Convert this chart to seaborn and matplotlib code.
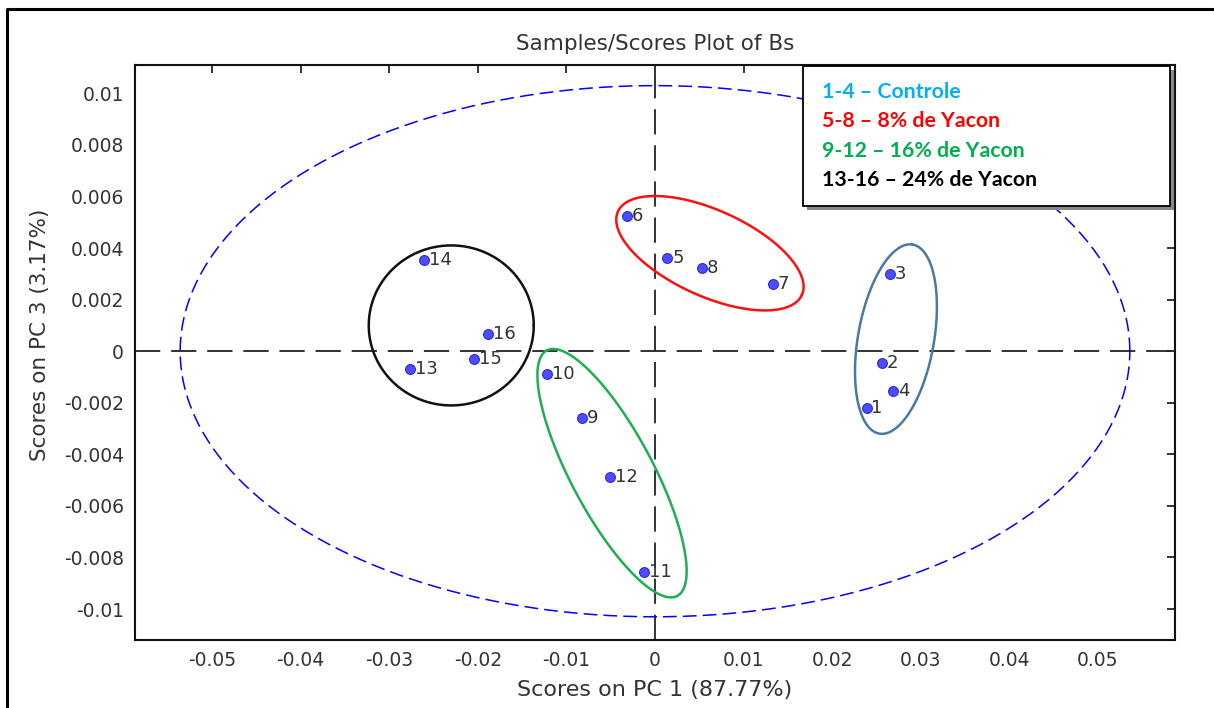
import numpy as np
import pandas as pd
from matplotlib import pyplot as plt
from matplotlib.lines import Line2D
from matplotlib.patches import Rectangle
import seaborn as sns

# PCA scores (PC1, PC3) for the 16 samples
sample_ids = [str(i) for i in range(1, 17)]
pc1_scores = [0.02389, 0.02565, 0.02652, 0.02690,
              0.00141, -0.00319, 0.01328, 0.00527,
              -0.00827, -0.01222, -0.00121, -0.00508,
              -0.02765, -0.02607, -0.02040, -0.01881]
pc3_scores = [-0.00220, -0.00044, 0.00301, -0.00155,
              0.00360, 0.00524, 0.00262, 0.00323,
              -0.00259, -0.00089, -0.00858, -0.00487,
              -0.00070, 0.00355, -0.00031, 0.00066]

# 95% confidence ellipse semi-axes (PC1, PC3)
conf_axes = (0.0536, 0.0103)

x_ticks = [-0.05, -0.04, -0.03, -0.02, -0.01, 0, 0.01, 0.02, 0.03, 0.04, 0.05]
x_tick_labels = ['-0.05', '-0.04', '-0.03', '-0.02', '-0.01', '0',
                 '0.01', '0.02', '0.03', '0.04', '0.05']
y_ticks = [0.01, 0.008, 0.006, 0.004, 0.002, 0, -0.002, -0.004, -0.006, -0.008, -0.01]
y_tick_labels = ['0.01', '0.008', '0.006', '0.004', '0.002', '0',
                 '-0.002', '-0.004', '-0.006', '-0.008', '-0.01']

legend_labels = ['1-4 \u2013 Controle', '5-8 \u2013 8% de Yacon',
                 '9-12 \u2013 16% de Yacon', '13-16 \u2013 24% de Yacon']
legend_colors = ['#00b0f0', '#ff0000', '#00b050', '#000000']

df = pd.DataFrame({'pc1': pc1_scores, 'pc3': pc3_scores, 'sample': sample_ids})

sns.set_style('white')
plt.rcParams['font.family'] = ['DejaVu Sans']
plt.rcParams['axes.unicode_minus'] = False

W, H = 1214, 708
fig = plt.figure(figsize=(W / 100, H / 100), dpi=100)
ax = fig.add_axes([135 / W, 1 - 640 / H, 1040 / W, 575 / H])

xlim = (-0.0587, 0.0587)
ylim = (-0.0112, 0.0111)
ax.set_xlim(*xlim)
ax.set_ylim(*ylim)

# data units per pixel, to draw ellipses given in screen pixels
pos = ax.get_position()
xpp = (xlim[1] - xlim[0]) / (pos.width * W)
ypp = (ylim[1] - ylim[0]) / (pos.height * H)

# zero lines
ax.axhline(0, color='#222222', lw=1.3, linestyle=(0, (14, 6)), zorder=1)
ax.axvline(0, color='#222222', lw=1.3, linestyle=(0, (14, 6)), zorder=1)

# confidence ellipse
t = np.linspace(0, 2 * np.pi, 400)
ax.plot(conf_axes[0] * np.cos(t), conf_axes[1] * np.sin(t),
        color='#0000ff', lw=1.1, linestyle=(0, (9, 4)), zorder=2)


def group_ellipse(cx, cy, a, b, angle, color):
    phi = np.deg2rad(angle)
    dx = a * np.cos(t) * np.cos(phi) - b * np.sin(t) * np.sin(phi)
    dy = a * np.cos(t) * np.sin(phi) + b * np.sin(t) * np.cos(phi)
    ax.plot(cx + dx * xpp, cy + dy * ypp, color=color, lw=1.8, zorder=3)


group_ellipse(0.0272, 0.00047, 96, 38, 80, '#4a79a3')
group_ellipse(0.0062, 0.0038, 101, 43, -24.4, '#ff1010')
group_ellipse(-0.00485, -0.00473, 139, 41, 118, '#1fae52')
group_ellipse(-0.0230, 0.0010, 82.5, 80, 0, '#111111')

sns.scatterplot(data=df, x='pc1', y='pc3', ax=ax, s=50, color='#4d4dff',
                edgecolor='#2a2ae0', linewidth=0.8, zorder=4, legend=False)
for _, row in df.iterrows():
    ax.annotate(row['sample'], (row['pc1'], row['pc3']), xytext=(3.5, 0),
                textcoords='offset points', va='center', ha='left',
                fontsize=13, color='#333333', zorder=5)

ax.set_xticks(x_ticks)
ax.set_xticklabels(x_tick_labels)
ax.set_yticks(y_ticks)
ax.set_yticklabels(y_tick_labels)
ax.tick_params(direction='in', length=6, width=1.2, top=True, right=True,
               labelsize=13.5, labelcolor='#333333', pad=8, color='#111111')
for side in ax.spines.values():
    side.set_linewidth(1.5)
    side.set_color('#111111')

ax.set_xlabel('Scores on PC 1 (87.77%)', fontsize=16, color='#333333', labelpad=7)
ax.set_ylabel('Scores on PC 3 (3.17%)', fontsize=15.5, color='#333333')
ax.yaxis.set_label_coords(-0.082, 0.53)
ax.set_title('Samples/Scores Plot of Bs', fontsize=15.5, color='#333333', pad=11)

# legend box drawn as a note
fig.patches.append(Rectangle((807 / W, 1 - 210 / H), 367 / W, 140 / H,
                             transform=fig.transFigure, facecolor='#888888',
                             edgecolor='none', zorder=9))
fig.patches.append(Rectangle((803 / W, 1 - 206 / H), 367 / W, 140 / H,
                             transform=fig.transFigure, facecolor='white',
                             edgecolor='black', lw=1.3, zorder=10))
for i, (lab, col) in enumerate(zip(legend_labels, legend_colors)):
    fig.text(822 / W, 1 - (92 + 29.3 * i) / H, lab, color=col, fontsize=15.3,
             fontweight='bold', family=['Lato', 'DejaVu Sans'], va='center',
             ha='left', zorder=11)

# outer frame
fig.lines.append(Line2D([7 / W, 7 / W, 1], [0, 1 - 9 / H, 1 - 9 / H],
                        transform=fig.transFigure, color='black', lw=2.2))

fig.savefig('out.png', dpi=100)
plt.close('all')
